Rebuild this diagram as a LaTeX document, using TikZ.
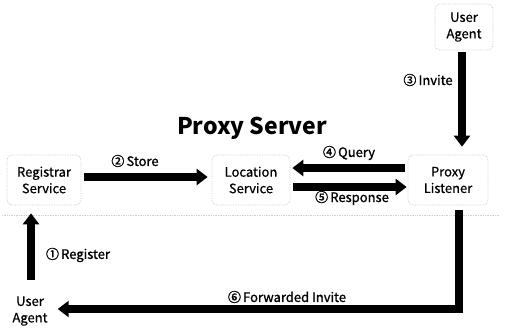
\documentclass[tikz,border=0pt]{standalone}
\usepackage{fontspec}
\setmainfont{Noto Sans CJK KR}
\newfontfamily\unitfont[FakeBold=0.6]{Noto Sans CJK KR}
\newfontfamily\msgfont[FakeBold=1.2]{Noto Sans CJK KR}
\usetikzlibrary{arrows.meta}

\tikzset{
  unit/.style={font=\unitfont\fontsize{13}{16.5}\selectfont, align=center, inner sep=0pt},
  unitbox/.style={unit, draw=gray!45, densely dotted, line width=0.7pt,
    rounded corners=5pt},
  msg/.style={font=\msgfont\fontsize{13}{15}\selectfont, inner sep=0pt},
  flow/.style={line width=7.5pt, -{Triangle[width=16pt,length=11pt]}},
  frame/.style={draw=gray!35, densely dotted, line width=0.7pt}
}

\begin{document}
\begin{tikzpicture}[x=1pt, y=-1pt]
  \useasboundingbox (0,0) rectangle (508,332);

  % faint lower edge of the server area
  \coordinate (frameL) at (2,215);
  \coordinate (frameR) at (500,215);
  \draw[frame] (frameL) -- (frameR);

  % components
  \node[unitbox, minimum width=74pt, minimum height=50pt] (reg) at (44,180) {Registrar\\Service};
  \node[unitbox, minimum width=78pt, minimum height=50pt] (loc) at (251,180) {Location\\Service};
  \node[unitbox, minimum width=80pt, minimum height=50pt] (pl) at (448,180) {Proxy\\Listener};
  \node[unitbox, minimum width=58pt, minimum height=46pt] (uatop) at (464,27) {User\\Agent};
  \node[unit] (uabot) at (30,311) {User\\Agent};

  \node[font=\bfseries\fontsize{23}{26}\selectfont, inner sep=0pt] (title) at (252,128) {Proxy Server};

  % messages
  \draw[flow] ([shift={(3pt,3pt)}]reg.east) -- ([shift={(-4pt,3pt)}]loc.west);
  \draw[flow] ([shift={(-3pt,12pt)}]pl.west) -- ([shift={(2pt,12pt)}]loc.east);
  \draw[flow] ([shift={(3pt,-7pt)}]loc.east) -- ([shift={(-1pt,-7pt)}]pl.west);
  \draw[flow, shorten >=8pt] ([shift={(-2pt,-2pt)}]uatop.south) -- ([xshift=-2pt]uatop.south |- pl.north);
  \draw[flow, shorten <=16pt, shorten >=8pt] ([xshift=1pt]uabot.north) -- ([xshift=1pt]uabot.north |- reg.south);
  \draw[flow, line join=miter, shorten <=5pt, shorten >=10pt] ([xshift=11pt]pl.south) |- ([yshift=2pt]uabot.east);

  % message labels
  \node[msg] (lstore) at (135,161) {②\,Store};
  \node[msg] (lquery) at (349,153) {④\,Query};
  \node[msg] (lresp) at (352,198) {⑤\,Response};
  \node[msg] (linvite) at (428,80) {③\,Invite};
  \node[msg] (lreg) at (78,255) {①\,Register};
  \node[msg] (lfwd) at (287,297) {⑥\,Forwarded Invite};
\end{tikzpicture}
\end{document}
